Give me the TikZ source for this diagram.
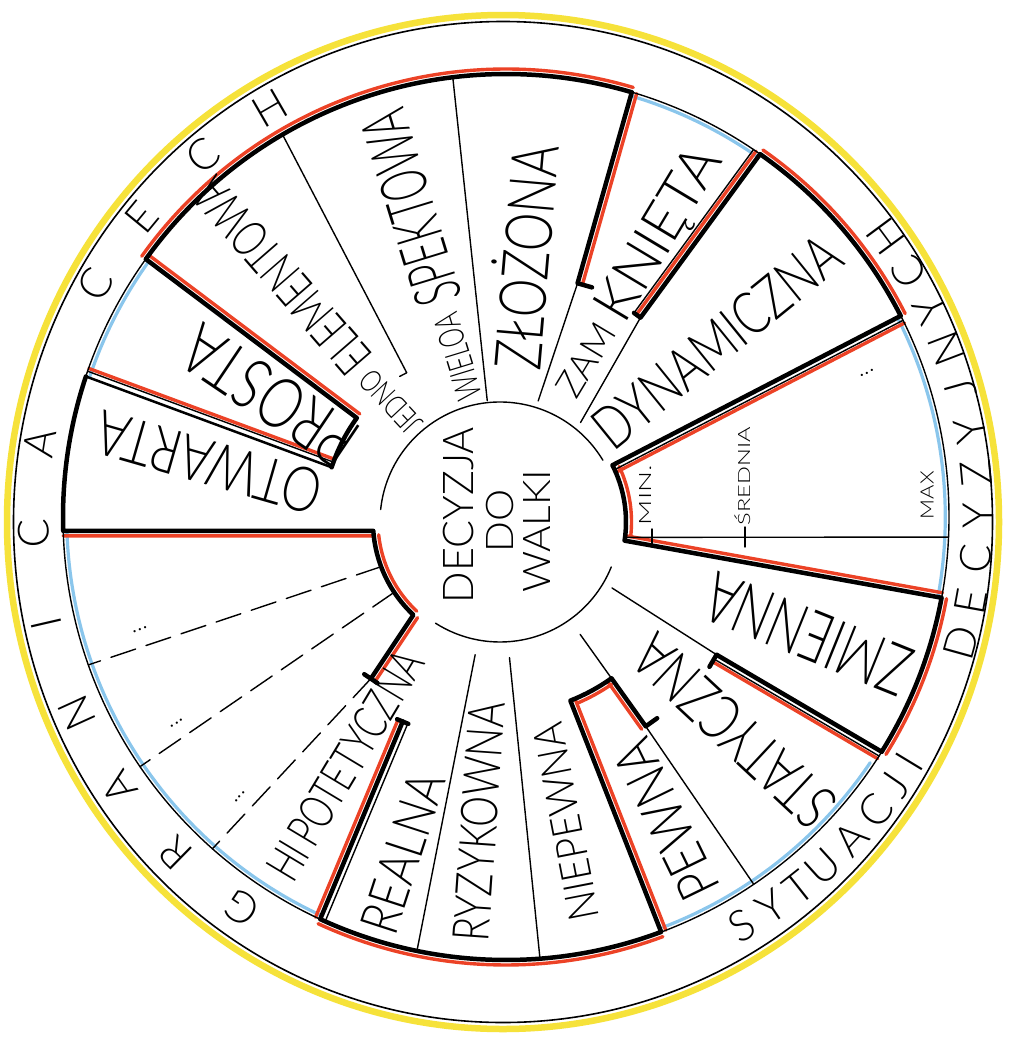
\documentclass[tikz,border=0pt]{standalone}
\usepackage{fontspec}
\usepackage{graphicx}
\IfFontExistsTF{Lato Light}{\setmainfont{Lato Light}}{\setmainfont{Lato}}
\usetikzlibrary{calc}
\definecolor{redl}{RGB}{236,66,38}
\definecolor{bluel}{RGB}{138,198,236}
\definecolor{yell}{RGB}{246,226,58}
\newcommand\lbl[3]{\resizebox{#1pt}{#2pt}{\raisebox{0pt}[\fontcharht\font`A][0pt]{#3}}}
\newcommand\offL[4][rd]{\draw[#1] ($(#2)!#4!90:(#3)$) -- ($(#3)!#4!-90:(#2)$);}
\newcommand\offR[4][rd]{\draw[#1] ($(#2)!#4!-90:(#3)$) -- ($(#3)!#4!90:(#2)$);}
\tikzset{
 thinb/.style={line width=1.4pt, black},
 medb/.style={line width=2.5pt, black},
 tk/.style={line width=4.5pt, black},
 rd/.style={line width=3.4pt, redl},
 bl/.style={line width=3.2pt, bluel},
 dsh/.style={line width=1.4pt, black, dash pattern=on 26pt off 11pt},
 lab/.style={inner sep=0pt, font=\fontsize{40}{40}\selectfont},
 ringl/.style={inner sep=0pt, font=\fontsize{43}{43}\selectfont},
 dotl/.style={inner sep=0pt, font=\fontsize{24}{24}\selectfont},
}
\begin{document}
\begin{tikzpicture}[x=1pt,y=1pt,line join=round,line cap=round]
\fill[white] (0,0) rectangle (1009,-1039);
\useasboundingbox (0,0) rectangle (1009,-1039);
\coordinate (R0) at (506,-517);
\coordinate (I0) at (500,-522);
\coordinate (E0) at (503,-522);
% outer circle
\draw[yell, line width=6.5pt] (E0) ellipse [x radius=496, y radius=507];
\draw[line width=1.6pt] (E0) ellipse [x radius=489.5, y radius=500.5];
% key points
\path ($(R0)+(181.8:443)$) coordinate (L182o)
 ($(I0)+(184:127)$) coordinate (L182i)
 ($(I0)+(227:127)$) coordinate (S3k)
 ($(I0)+(230.5:203)$) coordinate (S3f)
 ($(I0)+(200.6:127)$) coordinate (D1i) ($(R0)+(199.5:443)$) coordinate (D1o)
 ($(I0)+(213.6:127)$) coordinate (D2i) ($(R0)+(214.3:443)$) coordinate (D2o)
 ($(R0)+(228.5:443)$) coordinate (D3o)
 ($(I0)+(244:222)$) coordinate (S4i) ($(R0)+(245.2:443)$) coordinate (S4o)
 ($(I0)+(259.4:135)$) coordinate (T259i) ($(R0)+(258.4:443)$) coordinate (T259o)
 ($(I0)+(274:136)$) coordinate (T274i) ($(R0)+(274.4:443)$) coordinate (T274o)
 ($(R0)+(290.5:443)$) coordinate (S6o) ($(I0)+(291.5:192)$) coordinate (S6i)
 ($(I0)+(305.5:192)$) coordinate (P305c) ($(I0)+(305.5:251)$) coordinate (P305f)
 ($(I0)+(305.5:138)$) coordinate (P305a) ($(R0)+(304:443)$) coordinate (P305o)
 ($(I0)+(328.5:254)$) coordinate (S7i) ($(R0)+(328:443)$) coordinate (S7o)
 ($(I0)+(329.5:130)$) coordinate (S7a)
 ($(I0)+(-8.5:126)$) coordinate (Ci) ($(R0)+(-10.5:443)$) coordinate (Co)
 ($(I0)+(26.8:126)$) coordinate (Bi) ($(R0)+(27:443)$) coordinate (Bo)
 ($(I0)+(-7:126)$) coordinate (Ai) ($(R0)+(-2.6:443)$) coordinate (Ao)
 ($(I0)+(55.5:248)$) coordinate (D55i) ($(R0)+(55:443)$) coordinate (D55o) ($(I0)+(51:128)$) coordinate (D55a)
 ($(I0)+(72:251)$) coordinate (Z73i) ($(R0)+(73.5:443)$) coordinate (Z73o) ($(I0)+(72.5:127)$) coordinate (Z73a)
 ($(I0)+(96:122)$) coordinate (W97i) ($(R0)+(96.9:443)$) coordinate (W97o)
 ($(I0)+(122:176)$) coordinate (J120i) ($(R0)+(120.3:443)$) coordinate (J120o)
 ($(I0)+(144:177)$) coordinate (P144i) ($(R0)+(144.4:443)$) coordinate (P144o)
 ($(I0)+(162:177)$) coordinate (P162i) ($(R0)+(161.5:443)$) coordinate (P162o);
% blue arcs
\foreach \a/\b in {55/73.5, -10.5/27, 291/326, 144.4/161.5, 182/245}
 \draw[bl] ($(R0)+(\a:439.3)$) arc[start angle=\a, end angle=\b, radius=439.3];
% red arcs on ring
\foreach \a/\b in {73.5/144.4, 27/55, 328/349.5, 245.2/290.5}
 \draw[rd] ($(R0)+(\a:448)$) arc[start angle=\a, end angle=\b, radius=448];
% red offset lines
\draw[rd] ($(I0)+(186:122)$) arc[start angle=186, end angle=227, radius=122];
\offL{S3k}{S3f}{5pt}
\offL{L182i}{L182o}{5pt}
\offR{S4i}{S4o}{5pt}
\offL{S6i}{S6o}{5pt}
\draw[rd] ($(I0)+(293:197)$) arc[start angle=293, end angle=304.5, radius=197];
\offR{P305c}{P305f}{5pt}
\offR{S7i}{S7o}{8pt}
\offL{Ci}{Co}{5pt}
\offR{Bi}{Bo}{8pt}
\draw[rd] ($(I0)+(-6:131.5)$) arc[start angle=-6, end angle=25, radius=131.5];
\offL{D55i}{D55o}{5pt}
\offR{Z73i}{Z73o}{5pt}
\offR{P144i}{P144o}{5pt}
\offR{P162i}{P162o}{8.5pt}
% ring and inner circle
\draw[thinb] (R0) circle[radius=443];
\draw[thinb] ($(I0)+(174:120)$) arc[start angle=174, end angle=31, radius=120];
\draw[thinb] ($(I0)+(-22:120)$) arc[start angle=-22, end angle=-122.5, radius=120];
% thin radial lines
\draw[thinb] (W97i) -- (W97o);
\draw[thinb] ($(J120i)!8pt!90:(J120o)$) -- (J120i) -- (J120o);
\draw[thinb] (T259i) -- (T259o);
\draw[thinb] (T274i) -- (T274o);
\draw[thinb] (P305a) -- (P305c);
\draw[thinb] (P305f) -- (P305o);
\draw[thinb] (S7a) -- (S7i);
\draw[thinb] (Ai) -- (Ao);
\draw[thinb] (D55a) -- (D55i);
\draw[thinb] (Z73a) -- (Z73i);
\draw[thinb] (652,-529) -- (652,-545);
\draw[thinb] (745,-527) -- (745,-547);
% dashed lines
\draw[dsh] (D1i) -- (D1o);
\draw[dsh] (D2i) -- (D2o);
\draw[dsh] (S3f) -- (D3o);
% double thin lines
\offL[thinb]{S4i}{S4o}{5.5pt}
\offR[thinb]{S7i}{S7o}{5pt}
\offR[thinb]{Bi}{Bo}{5pt}
\offL[thinb]{D55i}{D55o}{8pt}
\offR[thinb]{P162i}{P162o}{5.5pt}
\draw[medb] (P162i) -- (P162o);
% thick outlines
\draw[tk] (P162o) arc[start angle=161.5, end angle=181.8, radius=443] -- (L182i)
 arc[start angle=184, end angle=227, radius=127] -- (S3f);
\draw[tk] ($(S3f)!8pt!90:(S3k)$) -- ($(S3f)!8pt!-90:(S3k)$);
\draw[tk] (S4i) -- (S4o) arc[start angle=245.2, end angle=290.5, radius=443] -- (S6i)
 arc[start angle=291.5, end angle=305.5, radius=192] -- (P305f) -- ($(P305f)!14pt!-90:(P305c)$);
\draw[tk] ($(S4i)!6pt!90:(S4o)$) -- ($(S4i)!6pt!-90:(S4o)$);
\draw[tk] ($(S7i)!14pt!-90:(S7o)$) -- (S7i) -- (S7o);
\draw[tk] (S7o) arc[start angle=328, end angle=349.5, radius=443] -- (Ci)
 arc[start angle=-8.5, end angle=26.8, radius=126] -- (Bo)
 arc[start angle=27, end angle=55, radius=443] -- (D55i) -- ($(D55i)!8pt!90:(D55o)$);
\draw[tk] ($(Z73i)!15pt!-90:(Z73o)$) -- (Z73i) -- (Z73o)
 arc[start angle=73.5, end angle=144.4, radius=443] -- (P144i)
 arc[start angle=144, end angle=162, radius=177];
% labels
\node[lab,rotate=39] (tDyn) at (717,-342) {\lbl{300}{42}{DYNAMICZNA}};
\node[lab,rotate=59] (tZam) at (586,-360) {\lbl{80}{26}{ZAM}};
\node[lab,rotate=59] (tKni) at (657,-233) {\lbl{192}{40}{KNIĘTA}};
\node[lab,rotate=85] (tZlo) at (527,-257) {\lbl{225}{46}{ZŁOŻONA}};
\node[lab,rotate=107] (tWie) at (458,-357) {\lbl{88}{25}{WIELOA}};
\node[lab,rotate=107] (tSpe) at (411,-208) {\lbl{200}{46}{SPEKTOWA}};
\node[lab,rotate=133] (tJed) at (391,-402) {\lbl{76}{22}{JEDNO}};
\node[lab,rotate=131] (tEle) at (282,-276) {\lbl{241}{36}{ELEMENTOWA}};
\node[lab,rotate=146] (tPro) at (270,-396) {\lbl{195}{50}{PROSTA}};
\node[lab,rotate=164] (tOtw) at (209,-463) {\lbl{232}{44}{OTWARTA}};
\node[lab,rotate=59] (tHip) at (345,-765) {\lbl{258}{34}{HI\,POTETYCZNA}};
\node[lab,rotate=72] (tRea) at (403,-853) {\lbl{165}{38}{REALNA}};
\node[lab,rotate=86] (tRyz) at (479,-822) {\lbl{240}{36}{RYZYKOWNA}};
\node[lab,rotate=101] (tNie) at (566,-822) {\lbl{200}{30}{NIEPEWNA}};
\node[lab,rotate=116] (tPew) at (666,-820) {\lbl{170}{40}{PEWNA}};
\node[lab,rotate=137] (tSta) at (734,-731) {\lbl{250}{44}{STATYCZNA}};
\node[lab,rotate=158] (tZmi) at (808,-634) {\lbl{216}{50}{ZMIENNA}};
\node[lab,rotate=90] (tDec) at (458,-515) {\lbl{176}{30}{DECYZJA}};
\node[lab,rotate=90] (tDo) at (500,-521) {\lbl{63}{27}{DO}};
\node[lab,rotate=90] (tWal) at (537,-531) {\lbl{123}{27}{WALKI}};
\node[lab,rotate=90] (tMin) at (645,-495) {\lbl{60}{12}{MIN.}};
\node[lab,rotate=90] (tSre) at (744,-476) {\lbl{98}{12}{ŚREDNIA}};
\node[lab,rotate=90] (tMax) at (927,-495) {\lbl{48}{13}{MAX}};
% dots
\node[dotl,rotate=27] (dR) at (867,-373) {...};
\node[dotl,rotate=20] (dL1) at (140,-630) {...};
\node[dotl,rotate=34] (dL2) at (177,-723) {...};
\node[dotl,rotate=48] (dL3) at (240,-797) {...};
% ring lettering
\foreach \c/\a [count=\i] in {G/236, R/225.5, A/215, N/204.5, I/193, C/182, A/171, C/150.5, E/140.5, C/130, H/120}
 \node[ringl, rotate=\a-90] (gr\i) at ($(R0)+(\a:472)$) {\c};
\foreach \c/\a [count=\i] in {S/300, Y/304.3, T/308.3, U/312.2, A/317, C/321.5, J/325.5, I/328.8, D/344.5, E/349.7, C/354.9, Y/0.1, Z/5.3, Y/10.5, J/15.7, N/20.9, Y/26.1, C/31.3, H/36.5}
 \node[ringl, rotate=\a+90] (sd\i) at ($(R0)+(\a:472)$) {\c};
\end{tikzpicture}
\end{document}
